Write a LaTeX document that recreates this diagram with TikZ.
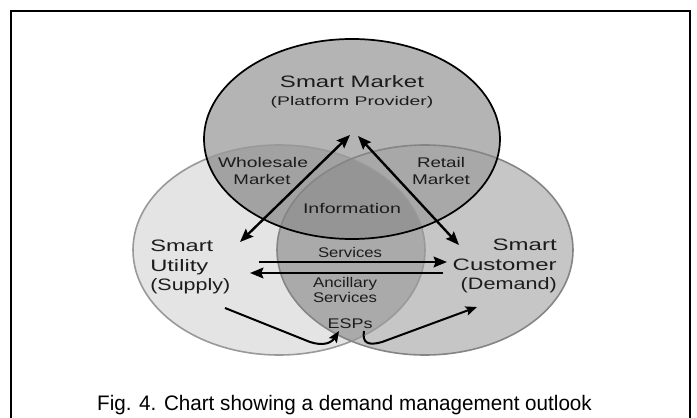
\documentclass[tikz,border=0pt]{standalone}
\usepackage{fontspec}
\setmainfont{Liberation Sans}
\usetikzlibrary{arrows.meta}
\definecolor{cL}{HTML}{E4E4E4}
\definecolor{cR}{HTML}{C6C6C6}
\definecolor{cLR}{HTML}{AAAAAA}
\definecolor{cT}{HTML}{B4B4B4}
\definecolor{cTL}{HTML}{A2A2A2}
\definecolor{cTR}{HTML}{A8A8A8}
\definecolor{cTLR}{HTML}{959595}
\definecolor{eL}{HTML}{999999}
\definecolor{eR}{HTML}{858585}
\definecolor{txt}{HTML}{1C1C1C}
\newcommand\fw[2]{\resizebox{#1pt}{\height}{#2}}
\tikzset{
  big/.style={font=\fontsize{12.4}{14}\selectfont, text=txt, inner sep=0pt},
  small/.style={font=\fontsize{10.5}{12}\selectfont, text=txt, inner sep=0pt},
  mid/.style={font=\fontsize{9.4}{11}\selectfont, text=txt, inner sep=0pt},
  captext/.style={font=\fontsize{15.75}{18}\selectfont, text=black, inner sep=0pt},
  arr/.style={line width=1.8pt, -{Stealth[length=10pt,width=8pt,inset=1.5pt]}},
  darr/.style={line width=1.8pt, {Stealth[length=10pt,width=8pt,inset=1.5pt]}-{Stealth[length=10pt,width=8pt,inset=1.5pt]}},
  carr/.style={line width=1.5pt, -{Stealth[length=8.5pt,width=7pt,inset=1.5pt]}},
}
\begin{document}
\begin{tikzpicture}[x=0.75pt,y=-0.75pt]
\useasboundingbox (0,0) rectangle (697,418);
\fill[white] (0,0) rectangle (697,418);
% frame
\draw[line width=1.2pt] (11,420) -- (11,11) -- (690,11) -- (690,420);
% region fills
\fill[cL] (279,250) ellipse [x radius=109.5pt, y radius=78.75pt];
\fill[cR] (425,250) ellipse [x radius=111pt, y radius=78.75pt];
\begin{scope}
  \clip (279,250) ellipse [x radius=109.5pt, y radius=78.75pt];
  \fill[cLR] (425,250) ellipse [x radius=111pt, y radius=78.75pt];
\end{scope}
\fill[cT] (352,139) ellipse [x radius=111pt, y radius=75pt];
\begin{scope}
  \clip (352,139) ellipse [x radius=111pt, y radius=75pt];
  \fill[cTL] (279,250) ellipse [x radius=109.5pt, y radius=78.75pt];
  \fill[cTR] (425,250) ellipse [x radius=111pt, y radius=78.75pt];
  \clip (279,250) ellipse [x radius=109.5pt, y radius=78.75pt];
  \fill[cTLR] (425,250) ellipse [x radius=111pt, y radius=78.75pt];
\end{scope}
% edges
\draw[eL, line width=1.2pt] (279,250) ellipse [x radius=109.5pt, y radius=78.75pt];
\draw[eR, line width=1.2pt] (425,250) ellipse [x radius=111pt, y radius=78.75pt];
\draw[black, line width=1.3pt] (352,139) ellipse [x radius=111pt, y radius=75pt];
% labels
\node[big, anchor=base] (sm) at (352,87) {\fw{108}{Smart Market}};
\node[mid, anchor=base] (pp) at (352,105) {\fw{122}{(Platform Provider)}};
\node[small, anchor=base] (wh) at (263,167) {\fw{67.5}{Wholesale}};
\node[small, anchor=base] (whm) at (262,184) {\fw{42.75}{Market}};
\node[small, anchor=base] (rt) at (441,167) {\fw{36}{Retail}};
\node[small, anchor=base] (rtm) at (441,184) {\fw{43.5}{Market}};
\node[small, anchor=base] (inf) at (352,213) {\fw{73.5}{Information}};
\node[big, anchor=base west] (su1) at (150,251) {\fw{47.25}{Smart}};
\node[big, anchor=base west] (su2) at (150,271) {\fw{43.5}{Utility}};
\node[big, anchor=base west] (su3) at (150,290) {\fw{60}{(Supply)}};
\node[big, anchor=base east] (sc1) at (557,250) {\fw{48}{Smart}};
\node[big, anchor=base east] (sc2) at (557,270) {\fw{78}{Customer}};
\node[big, anchor=base east] (sc3) at (557,289) {\fw{72}{(Demand)}};
\node[small, anchor=base] (sv) at (350,257) {\fw{48}{Services}};
\node[small, anchor=base] (an1) at (345,287) {\fw{48}{Ancillary}};
\node[small, anchor=base] (an2) at (345,302) {\fw{48}{Services}};
\node[small, anchor=base] (esp) at (350,328) {\fw{33.75}{ESPs}};
\node[captext, anchor=base] (capt) at (344.5,410) {\fw{371}{Fig. 4. Chart showing a demand management outlook}};
% arrow end points
\coordinate (mL) at (350,135);
\coordinate (mR) at (358,136);
\coordinate (uTip) at (240,242);
\coordinate (cTip) at (459,245);
\coordinate (sA) at (259,262);
\coordinate (sB) at (447,262);
\coordinate (aA) at (443,273);
\coordinate (aB) at (250,273);
\coordinate (cu1) at (225,308);
\coordinate (e1) at (339,331);
\coordinate (e2) at (364,331);
\coordinate (cc2) at (477,307);
% arrows
\draw[darr] (uTip) -- (mL);
\draw[darr] (mR) -- (cTip);
\draw[arr] (sA) -- (sB);
\draw[arr] (aA) -- (aB);
\draw[carr] (cu1) -- (305,340) .. controls (318,346) and (330,345) .. (e1);
\draw[carr] (e2) .. controls (362,343) and (368,346) .. (382,342) -- (cc2);
\end{tikzpicture}
\end{document}
